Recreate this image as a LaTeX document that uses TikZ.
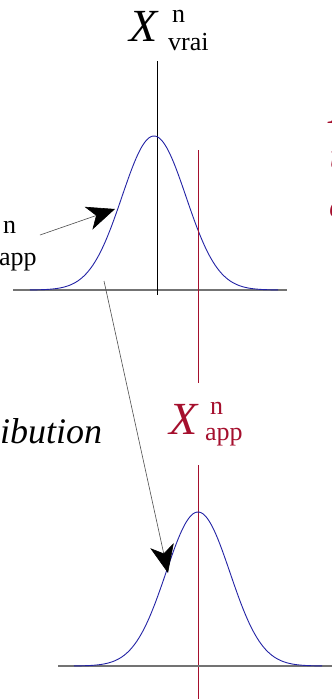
\documentclass[tikz,border=0pt]{standalone}
\usepackage{fontspec}
\setmainfont{Liberation Serif}
\usetikzlibrary{arrows.meta}
\definecolor{bleucourbe}{RGB}{35,35,165}
\definecolor{rougeapp}{RGB}{165,15,45}
\definecolor{grisaxe}{RGB}{115,115,115}
\tikzset{>=latex}
\tikzstyle{courbe}=[bleucourbe, line width=0.9pt]
\tikzstyle{axe}=[grisaxe, line width=1.3pt]
\tikzstyle{fleche}=[-{Stealth[length=28pt, width=24pt, inset=8pt, color=black]}, black!70, line width=0.6pt]
\tikzstyle{etiq}=[anchor=base west, inner sep=0pt]
\newcommand{\grand}{\fontsize{46}{46}\selectfont}
\newcommand{\moyen}{\fontsize{36}{36}\selectfont}
\newcommand{\petit}{\fontsize{26}{26}\selectfont}

\begin{document}
\begin{tikzpicture}[x=1pt, y=-1pt]
    \useasboundingbox (0,0) rectangle (332,699);
    \clip (0,0) rectangle (332,699);

    % Top distribution, centred on the true value
    \draw[axe] (13,290) -- (287,290);
    \draw[black, line width=0.8pt] (157,61) -- (157,295);
    \draw[courbe] plot[domain=-124:124, samples=120] ({154+\x},{290-154*exp(-\x*\x/2048)});
    \node[etiq, font=\grand\itshape] (Xvrai) at (129,41) {X};
    \node[etiq, font=\petit] (nvrai) at (172,22) {n};
    \node[etiq, font=\petit] (vrai) at (168,50) {vrai};

    % Red line for the approximated value
    \draw[rougeapp, line width=0.8pt] (198,150) -- (198,383);
    \draw[rougeapp, line width=0.8pt] (198,465) -- (198,699);
    \node[etiq, rougeapp, font=\grand\itshape] (Xapp) at (169,434) {X};
    \node[etiq, rougeapp, font=\petit] (napp) at (210,414) {n};
    \node[etiq, rougeapp, font=\petit] (app) at (205,440) {app};

    % Bottom distribution, centred on the approximated value
    \draw[axe] (58,666) -- (332,666);
    \draw[courbe] plot[domain=-124:124, samples=120] ({198+\x},{666-154*exp(-\x*\x/2048)});

    % Texts cut by the border
    \node[etiq, font=\petit] (ngauche) at (3,233) {n};
    \node[etiq, font=\petit] (appgauche) at (-1,265) {app};
    \node[etiq, font=\moyen\itshape] (ibution) at (0,443) {ibution};
    \node[etiq, rougeapp, font=\grand\itshape] (bord1) at (329,123) {X};
    \node[etiq, rougeapp, font=\moyen\itshape] (bord2) at (329.5,168) {u};
    \node[etiq, rougeapp, font=\moyen\itshape] (bord3) at (329,217) {e};

    % Arrows
    \coordinate (depart1) at (40,235);
    \coordinate (cible1) at (115,209);
    \coordinate (depart2) at (104,281);
    \coordinate (cible2) at (168,573);
    \draw[fleche] (depart1) -- (cible1);
    \draw[fleche] (depart2) -- (cible2);
\end{tikzpicture}
\end{document}
